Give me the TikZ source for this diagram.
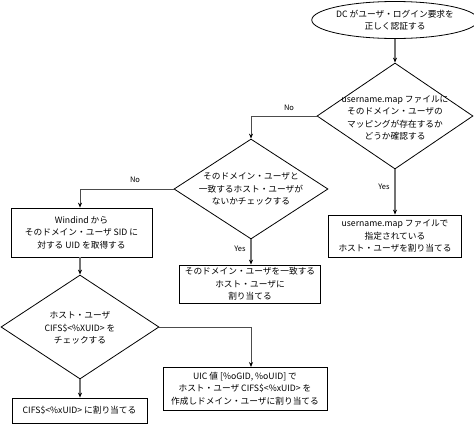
\documentclass[tikz,border=0pt]{standalone}
\usepackage{fontspec}
\setmainfont{Noto Sans CJK JP}
\usetikzlibrary{shapes.geometric,arrows.meta,calc}
\begin{document}
\begin{tikzpicture}[x=1pt,y=-1pt,
  every node/.style={font=\fontsize{8.7}{12.5}\selectfont, align=center, inner sep=0pt},
  shapeline/.style={draw=black, line width=0.8pt},
  boxnode/.style={shapeline, rectangle},
  dia/.style={shapeline, diamond},
  conn/.style={draw=black!55, line width=1.2pt, -{Stealth[length=5pt,width=4pt,black]}},
  noconn/.style={draw=black!70, line width=0.8pt, -{Stealth[length=5pt,width=4pt,black]}},
  lbl/.style={font=\fontsize{7.5}{9}\selectfont}]
\useasboundingbox (0,0) rectangle (474,426);
\node[shapeline, ellipse, minimum width=145pt, minimum height=37pt] (start) at (395,20) {DC がユーザ・ログイン要求を\\正しく認証する};
\node[dia, minimum width=156pt, minimum height=106pt] (d1) at (395,116) {};
\node (d1t) at (395,118) {username.map ファイルに\\そのドメイン・ユーザの\\マッピングが存在するか\\どうか確認する};
\node[boxnode, minimum width=133pt, minimum height=42pt] (b3) at (395,236) {username.map ファイルで\\指定されている\\ホスト・ユーザを割り当てる};
\node[dia, minimum width=154pt, minimum height=100pt] (d2) at (251,189) {};
\node (d2t) at (251,189) {そのドメイン・ユーザと\\一致するホスト・ユーザが\\ないかチェックする};
\node[boxnode, minimum width=141pt, minimum height=38pt] (b2) at (250,284) {そのドメイン・ユーザを一致する\\ホスト・ユーザに\\割り当てる};
\node[boxnode, minimum width=141pt, minimum height=49pt] (b1) at (81.5,232.5) {Windind から\\そのドメイン・ユーザ SID に\\対する UID を取得する};
\node[dia, minimum width=158pt, minimum height=104pt] (d3) at (80,327) {};
\node (d3t) at (80,328) {ホスト・ユーザ\\CIFS\$<\%XUID> を\\チェックする};
\node[boxnode, minimum width=135pt, minimum height=25pt] (b4) at (79.5,410.5) {CIFS\$<\%xUID> に割り当てる};
\node[boxnode, minimum width=164pt, minimum height=43pt] (b5) at (245,388.5) {UIC 値 [\%oGID, \%oUID] で\\ホスト・ユーザ CIFS\$<\%xUID> を\\作成しドメイン・ユーザに割り当てる};
\coordinate (b5in) at (251,367);
\draw[conn] (start.south) -- (d1.north);
\draw[conn] (d1.south) -- (b3.north);
\draw[noconn] (d1.west) -| (d2.north);
\draw[conn] (d2.south) -- (d2.south |- b2.north);
\draw[noconn] (d2.west) -| (b1.north -| d3.north);
\draw[conn] (b1.south -| d3.north) -- (d3.north);
\draw[conn] (d3.south) -- (d3.south |- b4.north);
\draw[noconn] (d3.east) -| (b5in);
\node[lbl] (no1) at (289,108) {No};
\node[lbl] (yes1) at (384,187) {Yes};
\node[lbl] (yes2) at (240,249) {Yes};
\node[lbl] (no2) at (135,180) {No};
\end{tikzpicture}
\end{document}
